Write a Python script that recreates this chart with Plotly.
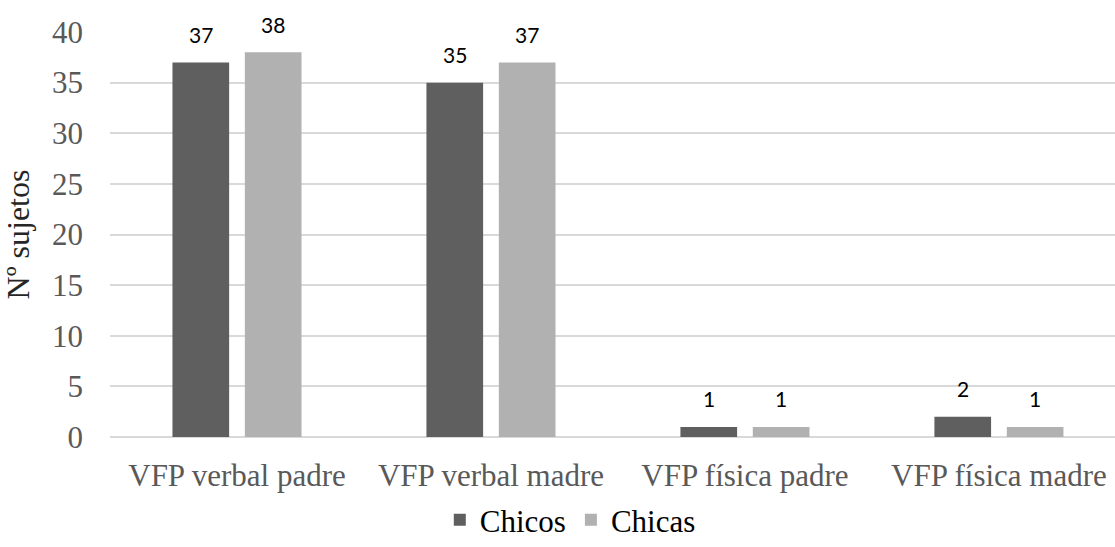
import plotly.graph_objects as go

categories = ["VFP verbal padre", "VFP verbal madre", "VFP física padre", "VFP física madre"]
chicos = [37, 35, 1, 2]
chicas = [38, 37, 1, 1]
y_ticks = [0, 5, 10, 15, 20, 25, 30, 35, 40]

serif = "Liberation Serif, serif"
sans = "Lato, sans-serif"
BARGAP = 0.43

fig = go.Figure()
series = [("Chicos", chicos, "#5f5f5f"), ("Chicas", chicas, "#b1b1b1")]
for name, vals, color in series:
    fig.add_trace(go.Bar(
        name=name, x=categories, y=vals, marker=dict(color=color, line=dict(width=0)),
    ))

# data labels placed over each bar (computed from data and bar layout)
n = len(series)
for j, (name, vals, color) in enumerate(series):
    for i, v in enumerate(vals):
        xpos = i + (j - (n - 1) / 2) * (1 - BARGAP) / n
        fig.add_annotation(x=xpos, y=v, xref="x", yref="y", text=str(v), showarrow=False,
                           yshift=28, yanchor="middle",
                           font=dict(family=sans, size=21, color="#000000"))

fig.update_layout(
    width=1115, height=547,
    font=dict(family=serif, size=31, color="#000000"),
    margin=dict(l=110, r=0, t=32, b=108),
    paper_bgcolor="white", plot_bgcolor="white",
    barmode="group", bargap=BARGAP, bargroupgap=0.217,
    showlegend=True,
    legend=dict(orientation="h", x=0.458, xanchor="center", y=-0.205, yanchor="middle",
                font=dict(family=serif, size=31, color="#000000"),
                traceorder="normal", itemwidth=30),
    xaxis=dict(range=[-0.5, 3.457], showgrid=False, showline=False, ticks="",
               ticklabelstandoff=17,
               tickfont=dict(family=serif, size=31, color="#595959")),
    yaxis=dict(range=[0, 40], tickvals=y_ticks, showgrid=True, gridcolor="#d9d9d9", gridwidth=1.5,
               zeroline=True, zerolinecolor="#d9d9d9", zerolinewidth=1.5, showline=False,
               tickfont=dict(family=serif, size=31, color="#595959"), ticklabelstandoff=26,
               title=dict(text="Nº sujetos", font=dict(family=serif, size=32, color="#262626"), standoff=12)),
)

fig.write_html("out.html")
